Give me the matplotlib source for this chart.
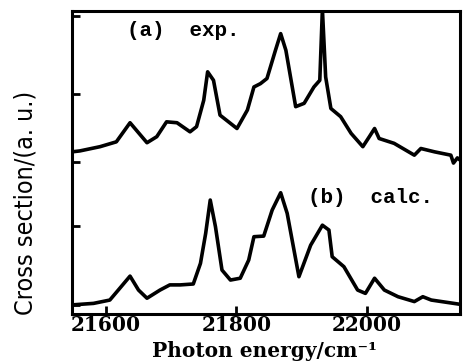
import numpy as np
import matplotlib
matplotlib.use("Agg")
import matplotlib.pyplot as plt

# Photon energy (cm^-1) and cross section (arbitrary units)
exp_x = [21548, 21560, 21591, 21616, 21637, 21663, 21678, 21693, 21709, 21729,
         21739, 21750, 21756, 21765, 21775, 21801, 21817, 21827, 21837, 21847,
         21860, 21868, 21876, 21891, 21904, 21919, 21928, 21932, 21937, 21945,
         21960, 21976, 21994, 22004, 22012, 22019, 22042, 22073, 22083, 22104,
         22129, 22133, 22139, 22143]
exp_y = [53.5, 53.8, 55.2, 56.8, 63.1, 56.5, 58.5, 63.4, 63.1, 60.1,
         61.8, 70.5, 79.9, 77.1, 65.6, 61.2, 67.3, 74.9, 76.0, 77.7,
         87.0, 92.5, 87.0, 68.4, 69.5, 74.9, 77.1, 100.5, 78.2, 67.8,
         65.1, 59.6, 55.2, 58.5, 61.2, 57.9, 56.3, 52.4, 54.6, 53.5,
         52.4, 49.8, 51.5, 50.8]

calc_x = [21548, 21581, 21606, 21619, 21637, 21650, 21663, 21683, 21698, 21714,
          21734, 21745, 21753, 21760, 21768, 21778, 21791, 21806, 21819, 21827,
          21842, 21855, 21868, 21878, 21896, 21914, 21932, 21942, 21947, 21965,
          21986, 21998, 22012, 22027, 22048, 22073, 22086, 22099, 22143]
calc_y = [3.0, 3.5, 4.6, 7.9, 12.5, 7.9, 5.2, 7.9, 9.6, 9.6,
          9.9, 16.7, 26.6, 37.6, 28.8, 14.5, 11.2, 11.8, 17.8, 25.5,
          25.7, 34.3, 40.0, 33.2, 12.3, 22.7, 29.3, 27.7, 18.9, 15.6,
          7.9, 6.8, 11.8, 7.9, 5.7, 4.1, 5.7, 4.6, 3.2]

xticks = [21600, 21800, 22000]
yticks = [3, 29, 50, 72.5, 98.4]

fig = plt.figure(figsize=(4.63, 3.63), dpi=100)
ax = fig.add_axes([0.1555, 0.135, 0.838, 0.835])

ax.plot(exp_x, exp_y, color='black', lw=2.6)
ax.plot(calc_x, calc_y, color='black', lw=2.6)

ax.set_xlim(21548, 22143)
ax.set_ylim(0, 100)

ax.set_xticks(xticks)
ax.set_xticklabels([str(t) for t in xticks], fontsize=14.5, fontweight='bold',
                   family='DejaVu Serif')
ax.set_yticks(yticks)
ax.set_yticklabels([])
ax.tick_params(direction='in', length=6, width=2, pad=1)
for s in ax.spines.values():
    s.set_linewidth(2.2)

ax.text(21632, 93.4, '(a)  exp.', fontsize=15, fontweight='bold',
        family=['Liberation Mono', 'DejaVu Sans Mono'], va='center')
ax.text(21910, 38.3, '(b)  calc.', fontsize=15, fontweight='bold',
        family=['Liberation Mono', 'DejaVu Sans Mono'], va='center')

ax.set_xlabel('Photon energy/cm\u207b\u00b9', fontsize=14.5, fontweight='bold',
              family='DejaVu Serif')
ax.xaxis.set_label_coords(0.497, -0.143, transform=ax.transAxes)
ax.xaxis.label.set_va('baseline')
ax.set_ylabel('Cross section/(a. u.)', fontsize=18,
              family='DejaVu Sans', fontstretch='condensed')
ax.yaxis.set_label_coords(-0.119, 0.366)
ax.yaxis.label.set_va('center')

fig.savefig('out.png', dpi=100)
